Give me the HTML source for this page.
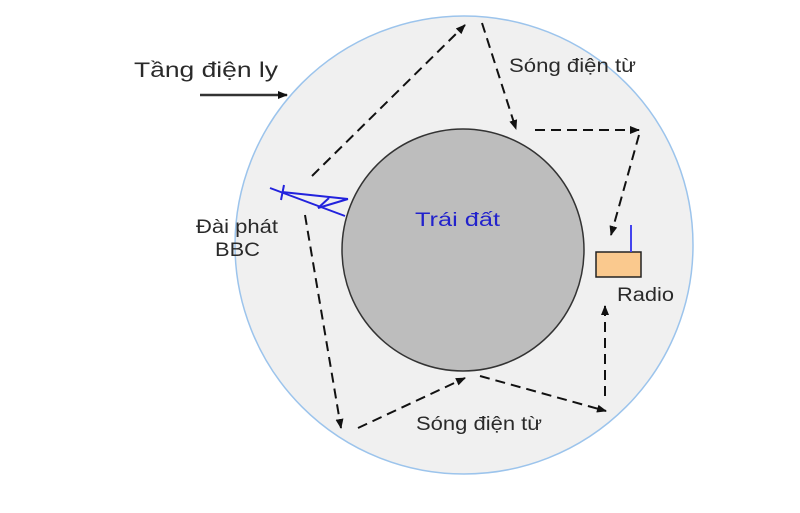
<!DOCTYPE html>
<html><head><meta charset="utf-8"><style>
body{margin:0;background:#fff}
svg{display:block}
text{font-family:"Liberation Sans",sans-serif;font-size:19px;fill:#2a2a2a}
</style></head><body>
<svg width="800" height="513" viewBox="0 0 800 513">
<defs>
<marker id="a" markerWidth="10" markerHeight="10" refX="9" refY="5" orient="auto" markerUnits="userSpaceOnUse">
<path d="M0,1 L10,5 L0,9 z" fill="#111"/></marker>
</defs>
<circle cx="464" cy="245" r="229" fill="#f0f0f0" stroke="#9cc4ec" stroke-width="1.5"/>
<circle cx="463" cy="250" r="121" fill="#bdbdbd" stroke="#333" stroke-width="1.5"/>
<g stroke="#111" stroke-width="2" stroke-dasharray="10,6" fill="none" marker-end="url(#a)">
<path d="M312,176 L465,25"/>
<path d="M482,23 L516,129"/>
<path d="M535,130 L639,130"/>
<path d="M639,135 L611,235"/>
<path d="M305,215 L341,428"/>
<path d="M358,428 L465,378"/>
<path d="M480,376 L606,411"/>
<path d="M605,396 L605,306"/>
</g>
<line x1="200" y1="95" x2="287" y2="95" stroke="#333" stroke-width="2.5" marker-end="url(#a)"/>
<g stroke="#2222dd" stroke-width="2" fill="none">
<line x1="270" y1="188" x2="345" y2="216"/>
<line x1="282" y1="192" x2="348" y2="199"/>
<line x1="284" y1="185" x2="281" y2="200"/>
<line x1="318" y1="208" x2="329" y2="198"/>
<line x1="318" y1="208" x2="348" y2="199"/>
</g>
<rect x="596" y="252" width="45" height="25" fill="#fac98e" stroke="#222" stroke-width="1.5"/>
<line x1="631" y1="225" x2="631" y2="252" stroke="#4444ee" stroke-width="2"/>
<text x="134" y="77" style="font-size:21px" textLength="144" lengthAdjust="spacingAndGlyphs">Tầng điện ly</text>
<text x="196" y="233" textLength="82" lengthAdjust="spacingAndGlyphs">Đài phát</text>
<text x="215" y="256" textLength="45" lengthAdjust="spacingAndGlyphs">BBC</text>
<text x="509" y="72" textLength="127" lengthAdjust="spacingAndGlyphs">Sóng điện từ</text>
<text x="416" y="430" textLength="126" lengthAdjust="spacingAndGlyphs">Sóng điện từ</text>
<text x="617" y="301" textLength="57" lengthAdjust="spacingAndGlyphs">Radio</text>
<text x="415" y="226" style="fill:#2222cc" textLength="85" lengthAdjust="spacingAndGlyphs">Trái đất</text>
</svg>
</body></html>
